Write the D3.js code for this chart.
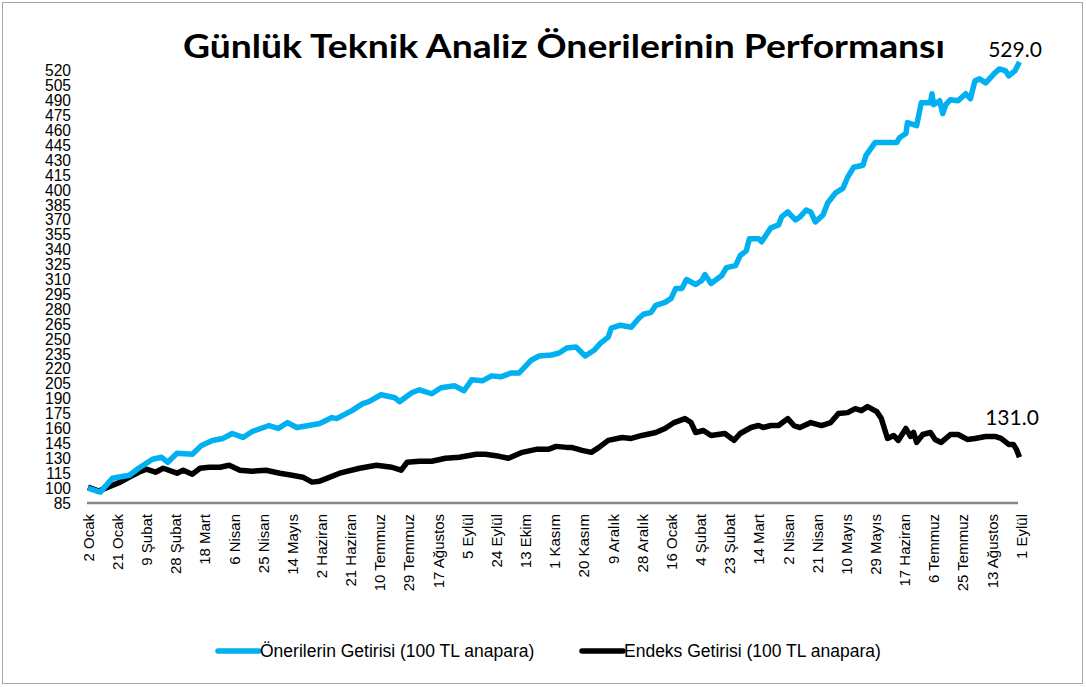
<!DOCTYPE html>
<html>
<head>
<meta charset="utf-8">
<script src="https://cdn.jsdelivr.net/npm/d3@7"></script>
<style>
  body { margin: 0; background: #fff; }
  svg { display: block; }
</style>
</head>
<body>
<div id="chart"></div>
<script>
// gün = 2 Ocak 2016'dan itibaren geçen gün
var baslangic = new Date(2016, 0, 2);

var oneriGun = [0, 8, 16, 27, 33, 42, 48, 52, 58, 68, 74, 81, 88, 94, 101, 107, 118, 124, 130, 136,
  144, 151, 159, 162, 172, 179, 183, 191, 200, 203, 211, 216, 224, 230, 239, 245, 250, 257, 263, 269,
  276, 281, 289, 294, 302, 307, 312, 318, 324, 330, 334, 339, 341, 347, 354, 359, 362, 367, 370, 376,
  380, 383, 387, 390, 396, 400, 402, 406, 413, 416, 422, 425, 429, 431, 437, 439, 442, 445, 450, 452,
  456, 461, 464, 468, 471, 474, 479, 482, 487, 492, 495, 499, 505, 507, 513, 527, 529, 533, 534, 540,
  543, 549, 550, 551, 555, 557, 559, 562, 567, 572, 575, 578, 581, 585, 591, 594, 598, 600, 604, 607];
var oneriDeger = [100, 96, 110, 113, 120, 129, 131, 126, 135, 134, 143, 148, 150, 155, 151, 157, 163, 160, 166, 161,
  163, 165, 171, 170, 178, 185, 187, 194, 191, 187, 196, 199, 195, 201, 203, 198, 209, 208, 213, 212,
  216, 216, 229, 233, 234, 236, 241, 242, 233, 239, 246, 252, 261, 264, 262, 271, 275, 277, 284, 287,
  291, 301, 301, 310, 305, 309, 315, 306, 314, 322, 324, 334, 339, 351, 351, 348, 355, 362, 365, 373,
  378, 370, 373, 380, 378, 368, 375, 387, 397, 402, 413, 423, 425, 435, 448, 448, 453, 457, 468, 465,
  488, 488, 497, 486, 490, 477, 486, 491, 490, 497, 492, 510, 512, 508, 518, 522, 520, 515, 520, 529];

var endeksGun = [0, 7, 13, 21, 27, 33, 38, 44, 49, 58, 62, 68, 73, 79, 86, 92, 99, 107, 116, 125,
  133, 140, 146, 151, 156, 164, 177, 188, 198, 204, 208, 216, 224, 233, 242, 253, 259, 268, 274, 283,
  292, 300, 305, 312, 315, 322, 328, 333, 339, 348, 354, 361, 370, 376, 382, 389, 393, 396, 401, 406,
  415, 421, 425, 432, 437, 440, 445, 450, 456, 460, 464, 471, 478, 484, 489, 495, 500, 504, 508, 514,
  517, 519, 521, 525, 528, 533, 536, 538, 540, 544, 549, 552, 556, 562, 567, 573, 578, 585, 591, 595,
  600, 603, 605, 607];
var endeksDeger = [101, 97, 101, 106, 111, 116, 119, 116, 120, 115, 118, 114, 120, 121, 121, 123, 118, 117, 118, 115,
  113, 111, 106, 107, 110, 115, 120, 123, 121, 118, 126, 127, 127, 130, 131, 134, 134, 132, 130, 136,
  139, 139, 142, 141, 141, 138, 136, 141, 148, 151, 150, 153, 156, 160, 166, 170, 166, 156, 158, 153,
  155, 148, 155, 161, 163, 161, 163, 163, 170, 163, 161, 166, 163, 166, 175, 176, 180, 178, 182, 177,
  170, 160, 150, 153, 148, 160, 152, 156, 146, 154, 156, 149, 146, 154, 154, 149, 150, 152, 152, 150,
  144, 144, 139, 131];

var xEtiketleri = ["2 Ocak", "21 Ocak", "9 Şubat", "28 Şubat", "18 Mart", "6 Nisan", "25 Nisan", "14 Mayıs",
  "2 Haziran", "21 Haziran", "10 Temmuz", "29 Temmuz", "17 Ağustos", "5 Eylül", "24 Eylül", "13 Ekim",
  "1 Kasım", "20 Kasım", "9 Aralık", "28 Aralık", "16 Ocak", "4 Şubat", "23 Şubat", "14 Mart", "2 Nisan",
  "21 Nisan", "10 Mayıs", "29 Mayıs", "17 Haziran", "6 Temmuz", "25 Temmuz", "13 Ağustos", "1 Eylül"];
var etiketAraligi = 19; // gün

var yTikler = [85, 100, 115, 130, 145, 160, 175, 190, 205, 220, 235, 250, 265, 280, 295, 310, 325, 340,
  355, 370, 385, 400, 415, 430, 445, 460, 475, 490, 505, 520];

var seriAdlari = ["Önerilerin Getirisi (100 TL anapara)", "Endeks Getirisi (100 TL anapara)"];
var renkler = ["#00b0f0", "#000000"];
var baslik = "Günlük Teknik Analiz Önerilerinin Performansı";

var w = 1086, h = 687;
var svg = d3.select("#chart").append("svg")
    .attr("width", w)
    .attr("height", h);

svg.append("rect")
    .attr("x", 2.5).attr("y", 2.5)
    .attr("width", w - 6).attr("height", h - 6)
    .attr("fill", "#fff")
    .attr("stroke", "#a6a6a6");

var gunTarih = function(g) { return d3.timeDay.offset(baslangic, g); };

var x = d3.scaleTime()
    .domain([baslangic, gunTarih(608)])
    .range([88, 1021]);
var y = d3.scaleLinear()
    .domain([85, 530])
    .range([503, 61]);

// y ekseni
var yAxis = svg.append("g")
    .attr("transform", "translate(71,0)")
    .call(d3.axisLeft(y).tickValues(yTikler).tickSize(0).tickPadding(0));
yAxis.select(".domain").remove();
yAxis.selectAll("text")
    .style("font-family", "'Liberation Sans', Arial, sans-serif")
    .style("font-size", "15.6px")
    .attr("fill", "#000");

// x ekseni
var xTikler = xEtiketleri.map(function(d, i) { return gunTarih(i * etiketAraligi); });
var xAxis = svg.append("g")
    .attr("transform", "translate(0,503)")
    .call(d3.axisBottom(x).tickValues(xTikler).tickSize(0)
        .tickFormat(function(d, i) { return xEtiketleri[i]; }));
xAxis.select(".domain")
    .attr("d", "M87,0H1018")
    .attr("stroke", "#868686")
    .attr("stroke-width", 2.5);
xAxis.selectAll("text")
    .style("font-family", "'Liberation Sans', Arial, sans-serif")
    .style("font-size", "15px")
    .attr("fill", "#000")
    .attr("text-anchor", "end")
    .attr("transform", "rotate(-90)")
    .attr("x", -11)
    .attr("y", 0)
    .attr("dy", "0.35em");

var line = d3.line()
    .x(function(d) { return x(gunTarih(d[0])); })
    .y(function(d) { return y(d[1]); });

var seriler = [
    d3.zip(endeksGun, endeksDeger),
    d3.zip(oneriGun, oneriDeger)
];
var seriRenk = [renkler[1], renkler[0]];

svg.selectAll("path.seri")
    .data(seriler)
    .enter()
    .append("path")
    .attr("class", "seri")
    .attr("d", line)
    .attr("fill", "none")
    .attr("stroke", function(d, i) { return seriRenk[i]; })
    .attr("stroke-width", 5.5)
    .attr("stroke-linejoin", "round");

// uç değer etiketleri
var sonOneri = oneriDeger[oneriDeger.length - 1];
var sonEndeks = endeksDeger[endeksDeger.length - 1];
svg.append("text")
    .attr("x", 1015).attr("y", y(sonOneri) - 5)
    .attr("text-anchor", "middle")
    .style("font-family", "Lato, 'Open Sans', sans-serif")
    .style("font-size", "21px")
    .text(sonOneri.toFixed(1));
svg.append("text")
    .attr("x", 1012).attr("y", y(sonEndeks) - 32)
    .attr("text-anchor", "middle")
    .style("font-family", "Lato, 'Open Sans', sans-serif")
    .style("font-size", "21px")
    .text(sonEndeks.toFixed(1));

// başlık
svg.append("text")
    .attr("x", 564).attr("y", 58)
    .attr("text-anchor", "middle")
    .attr("textLength", 762)
    .attr("lengthAdjust", "spacingAndGlyphs")
    .style("font-family", "Lato, 'Open Sans', sans-serif")
    .style("font-weight", "bold")
    .style("font-size", "33px")
    .text(baslik);

// lejant
var lejant = [
    { ad: seriAdlari[0], renk: renkler[0], x: 218 },
    { ad: seriAdlari[1], renk: renkler[1], x: 582 }
];
var lg = svg.selectAll("g.lejant")
    .data(lejant)
    .enter()
    .append("g")
    .attr("class", "lejant")
    .attr("transform", function(d) { return "translate(" + d.x + ",651)"; });
lg.append("line")
    .attr("x1", 0).attr("x2", 41)
    .attr("stroke", function(d) { return d.renk; })
    .attr("stroke-width", 5.5)
    .attr("stroke-linecap", "round");
lg.append("text")
    .attr("x", 42).attr("dy", "0.35em")
    .style("font-family", "'Liberation Sans', Arial, sans-serif")
    .style("font-size", "17.5px")
    .text(function(d) { return d.ad; });
</script>
</body>
</html>
